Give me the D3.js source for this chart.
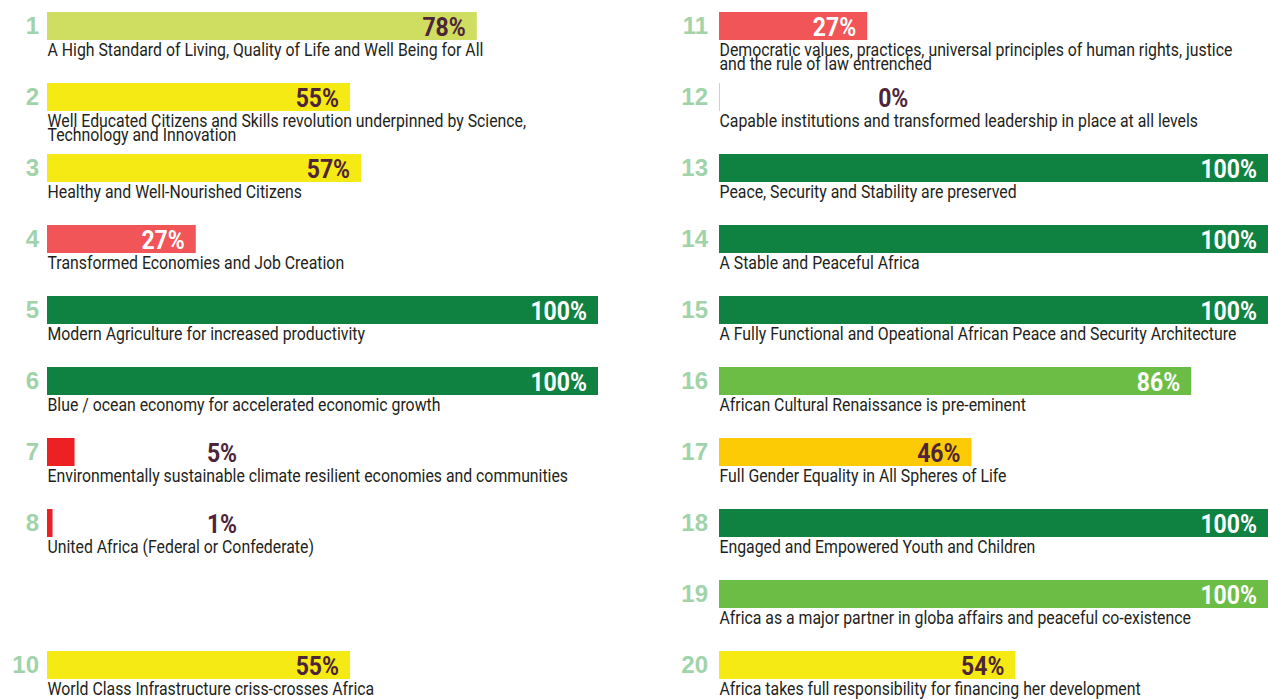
<!DOCTYPE html>
<html><head><meta charset="utf-8">
<script src="https://cdn.jsdelivr.net/npm/d3@7"></script>
<style>
html,body{margin:0;padding:0;background:#fff;overflow:hidden}
svg{display:block}
</style></head><body>
<svg id="chart" width="1268" height="699"></svg>
<script>
// Agenda 2063 goals and their progress scores
const goals = [1, 2, 3, 4, 5, 6, 7, 8, 10, 11, 12, 13, 14, 15, 16, 17, 18, 19, 20];
const values = [78, 55, 57, 27, 100, 100, 5, 1, 55, 27, 0, 100, 100, 100, 86, 46, 100, 100, 54];
const ratings = ["upper", "mid", "mid", "low", "full", "full", "minimal", "minimal", "mid",
                 "low", "minimal", "full", "full", "full", "high", "moderate", "full", "high", "mid"];
const descriptions = [
  "A High Standard of Living, Quality of Life and Well Being for All",
  "Well Educated Citizens and Skills revolution underpinned by Science,\nTechnology and Innovation",
  "Healthy and Well-Nourished Citizens",
  "Transformed Economies and Job Creation",
  "Modern Agriculture for increased productivity",
  "Blue / ocean economy for accelerated economic growth",
  "Environmentally sustainable climate resilient economies and communities",
  "United Africa (Federal or Confederate)",
  "World Class Infrastructure criss-crosses Africa",
  "Democratic values, practices, universal principles of human rights, justice\nand the rule of law entrenched",
  "Capable institutions and transformed leadership in place at all levels",
  "Peace, Security and Stability are preserved",
  "A Stable and Peaceful Africa",
  "A Fully Functional and Opeational African Peace and Security Architecture",
  "African Cultural Renaissance is pre-eminent",
  "Full Gender Equality in All Spheres of Life",
  "Engaged and Empowered Youth and Children",
  "Africa as a major partner in globa affairs and peaceful co-existence",
  "Africa takes full responsibility for financing her development"
];
const ratingLevels = ["full", "high", "upper", "mid", "moderate", "low", "minimal"];

const rows = goals.map((g, i) => ({
  goal: g, value: values[i], rating: ratings[i], text: descriptions[i],
  col: g > 10 ? 1 : 0, slot: (g - 1) % 10
}));

const svg = d3.select("#chart");

const barColor = d3.scaleOrdinal()
  .domain(ratingLevels)
  .range(["#0f8241", "#6cbd45", "#cfdd60", "#f6ea14", "#fdca06", "#f15557", "#ed2024"]);
const labelColor = d3.scaleOrdinal()
  .domain(ratingLevels)
  .range(["#ffffff", "#ffffff", "#4e2439", "#4e2439", "#4e2439", "#ffffff", "#4e2439"]);

// one band per slot; both columns share the vertical layout
const y = d3.scaleBand().domain(d3.range(10)).range([12, 679])
  .paddingInner(43 / 71).paddingOuter(0);

const xCols = [
  d3.scaleLinear().domain([0, 100]).range([47, 598]),
  d3.scaleLinear().domain([0, 100]).range([719, 1268])
];
const numberRight = [39, 708];
const outsideLabelAt = 36.5; // tiny bars get their label placed further along
const condense = 0.88;       // narrow setting for the goal descriptions

const g = svg.selectAll("g.goal").data(rows).join("g").attr("class", "goal");

g.append("rect")
  .attr("x", d => xCols[d.col](0))
  .attr("y", d => y(d.slot))
  .attr("width", d => Math.max(xCols[d.col](d.value) - xCols[d.col](0), 1))
  .attr("height", y.bandwidth())
  .attr("fill", d => barColor(d.rating))
  .attr("fill-opacity", d => d.value === 0 ? 0.3 : 1);

g.append("text")
  .attr("x", d => numberRight[d.col])
  .attr("y", d => y(d.slot) + 22)
  .attr("text-anchor", "end")
  .style("font-family", "'Liberation Sans', Arial, sans-serif")
  .style("font-weight", "700")
  .style("font-size", "24px")
  .attr("fill", "#a1d3aa")
  .text(d => d.goal);

g.append("text")
  .attr("transform", d => {
    const x = xCols[d.col];
    const lx = (d.value < 10 ? x(outsideLabelAt) : x(d.value)) - 11;
    return `translate(${lx},${y(d.slot) + 24}) scale(0.92,1)`;
  })
  .attr("text-anchor", "end")
  .style("font-family", "Roboto, 'Liberation Sans', sans-serif")
  .style("font-weight", "700")
  .style("font-size", "25px")
  .attr("fill", d => d.value < 10 ? "#4e2439" : labelColor(d.rating))
  .text(d => d.value + "%");

const desc = g.append("text")
  .attr("transform", d => `translate(${xCols[d.col](0) + 0.5},${y(d.slot) + 43.5}) scale(${condense},1)`)
  .style("font-family", "Roboto, sans-serif")
  .style("font-size", "18px")
  .attr("fill", "#231f20");
desc.selectAll("tspan")
  .data(d => d.text.split("\n"))
  .join("tspan")
  .attr("x", 0)
  .attr("dy", (s, i) => i === 0 ? 0 : 14.5)
  .text(s => s);
</script>
</body></html>
